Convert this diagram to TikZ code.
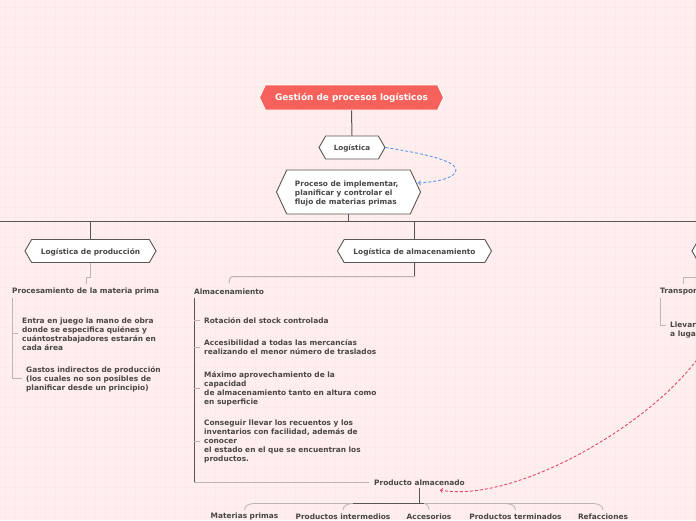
\documentclass[tikz,border=0pt]{standalone}
\usepackage{fontspec}
\setmainfont{DejaVu Sans}
\usetikzlibrary{shapes.symbols,positioning}
\definecolor{bgpink}{HTML}{FEEEEE}
\definecolor{gridpink}{HTML}{FCE9E9}
\definecolor{titlered}{HTML}{F7615B}
\definecolor{inkgray}{HTML}{4A4646}
\definecolor{linegray}{HTML}{5A5555}
\definecolor{softgray}{HTML}{BDB5B5}
\definecolor{relblue}{HTML}{5A9BEA}
\definecolor{relpink}{HTML}{E2476F}
\tikzset{font={\fontsize{7.4pt}{9pt}\selectfont\bfseries}}
\tikzset{
hexbox/.style={signal,signal to=west and east,draw=linegray,fill=white,line width=.9pt,text=inkgray,inner sep=0pt,anchor=center,text height=8pt},
leaf/.style={text=inkgray,align=left,inner sep=0pt,anchor=west,yshift=-.4pt},
link/.style={draw=linegray,line width=1pt},
softlink/.style={draw=softgray,line width=1pt},
relation/.style={densely dashed,line width=.9pt,->},
}
\begin{document}
\begin{tikzpicture}[x=1pt,y=-1pt]
\useasboundingbox (0,0) rectangle (696,520);
\clip (0,0) rectangle (696,520);
\fill[bgpink] (0,0) rectangle (696,520);
\foreach \x in {5,15,...,695}\draw[gridpink,line width=1pt] (\x,0) -- (\x,520);
\foreach \y in {7,17,...,517}\draw[gridpink,line width=1pt] (0,\y) -- (696,\y);

%central topics
\node[hexbox,fill=titlered,draw=white,text=white,minimum width=184pt,minimum height=25pt,signal pointer angle=130,font={\fontsize{8.9pt}{9pt}\selectfont\bfseries}] (title) at (351.5,97.5) {Gestión de procesos logísticos};
\node[hexbox,minimum width=66pt,minimum height=23pt,signal pointer angle=120,font={\fontsize{7.2pt}{9pt}\selectfont\bfseries}] (logistica) at (352,147.5) {Logística};
\node[hexbox,minimum width=144pt,minimum height=44pt,signal pointer angle=130,align=left,text height={}] (proceso) at (348.5,192) {\rule{0pt}{8pt}Proceso de implementar,\hspace{3.5pt}\mbox{}\\planificar y controlar el\\flujo de materias primas};

\node[hexbox,minimum width=131pt,minimum height=23pt,signal pointer angle=120] (produccion) at (90.5,251) {Logística de producción};
\node[hexbox,minimum width=154pt,minimum height=23pt,signal pointer angle=120] (almacen) at (414.5,251) {Logística de almacenamiento};
\node[hexbox,minimum width=60pt,minimum height=23pt,signal pointer angle=120] (transporte) at (722,251) {};

%left branch
\node[leaf] (materia) at (12,291.5) {Procesamiento de la materia prima};
\node[leaf] (mano) at (22,334) {Entra en juego la mano de obra\\donde se especifica quiénes y\\cuántostrabajadores estarán en\\cada área};
\node[leaf] (gastos) at (26,379) {Gastos indirectos de producción\\(los cuales no son posibles de\\planificar desde un principio)};

%middle branch
\node[leaf] (almacenamiento) at (194,291.5) {Almacenamiento};
\node[leaf] (rotacion) at (204,320.5) {Rotación del stock controlada};
\node[leaf] (accesibilidad) at (204,347) {Accesibilidad a todas las mercancías\\realizando el menor número de traslados};
\node[leaf] (maximo) at (204,388) {Máximo aprovechamiento de la\\capacidad\\de almacenamiento tanto en altura como\\en superficie};
\node[leaf] (recuentos) at (204,441.5) {Conseguir llevar los recuentos y los\\inventarios con facilidad, además de\\conocer\\el estado en el que se encuentran los\\productos.};
\node[leaf] (producto) at (374,482.5) {Producto almacenado};

\node[leaf,anchor=center] (primas) at (244.5,516) {Materias primas};
\node[leaf,anchor=center] (intermedios) at (343,516) {Productos intermedios};
\node[leaf,anchor=center] (accesorios) at (429,516) {Accesorios};
\node[leaf,anchor=center] (terminados) at (515.5,516) {Productos terminados};
\node[leaf,anchor=center] (refacciones) at (603,516) {Refacciones};

%right branch
\node[leaf] (transporta) at (660,291.5) {Transpor};
\node[leaf] (llevar) at (670,329.5) {Llevar\\a luga};

%trunk
\coordinate (busl) at (0,221.5);
\coordinate (busr) at (696,221.5);
\draw[link] (title.south) -- (logistica.north);
\draw[link] (proceso.south) -- (proceso.south|-busl);
\draw[link] (busl) -- (busr);
\draw[link] (produccion.north|-busl) -- (produccion.north);
\draw[link] (almacen.north|-busl) -- (almacen.north);

%left connectors
\draw[softlink] (produccion.south) -- ++(0,15) -| (86,284);
\draw[softlink] (12,298) -- (12,333) -- (18,333);
\draw[softlink] (12,333) -- (12,378) -- (22,378);

%middle connectors
\draw[softlink] (almacen.south) -- (414.5,276.5) -- (233,276.5) to[out=180,in=90] (229,283);
\draw[link] (almacen.south) -- (414.5,276);
\draw[link,line width=.8pt] (194,298) -- (194,482.5);
\draw[softlink] (194,320.5) -- (200,320.5);
\draw[softlink] (194,347) -- (200,347);
\draw[softlink] (194,388) -- (200,388);
\draw[softlink] (194,441.5) -- (200,441.5);
\draw[softlink] (194,482.5) -- (369,482.5);

%product connectors
\coordinate (prodbus) at (419.5,503.5);
\draw[softlink,line width=.8pt] (244.5,510) to[out=90,in=180] (254,503.5) -- (424,503.5) to[out=0,in=90] (429,510);
\draw[softlink,line width=.8pt] (343,510) to[out=90,in=180] (353,503.5) -- (419.5,503.5);
\draw[softlink,line width=.8pt] (419.5,503.5) -- (505,503.5) to[out=0,in=90] (515.5,510);
\draw[softlink,line width=.8pt] (419.5,503.5) -- (593,503.5) to[out=0,in=90] (603,510);
\draw[link,line width=.8pt] (353,503.5) -- (424,503.5);
\draw[link] (prodbus|-producto.south) ++(0,2) -- (prodbus);

%right connectors
\draw[softlink] (700,277) -- (683,277) -- (683,284);
\draw[softlink] (660,298) -- (660,325) -- (666,325);

%relations
\coordinate (reltop) at (715,330);
\coordinate (relend) at (418,183);
\coordinate (relpoint) at (440,490);
\draw[relation,draw=relblue] (logistica.east) .. controls (420,153) and (456,160) .. (456,170) .. controls (456,178) and (437,182) .. (relend);
\draw[relation,draw=relpink] (reltop) .. controls (680,410) and (520,505) .. (relpoint);
\end{tikzpicture}
\end{document}
